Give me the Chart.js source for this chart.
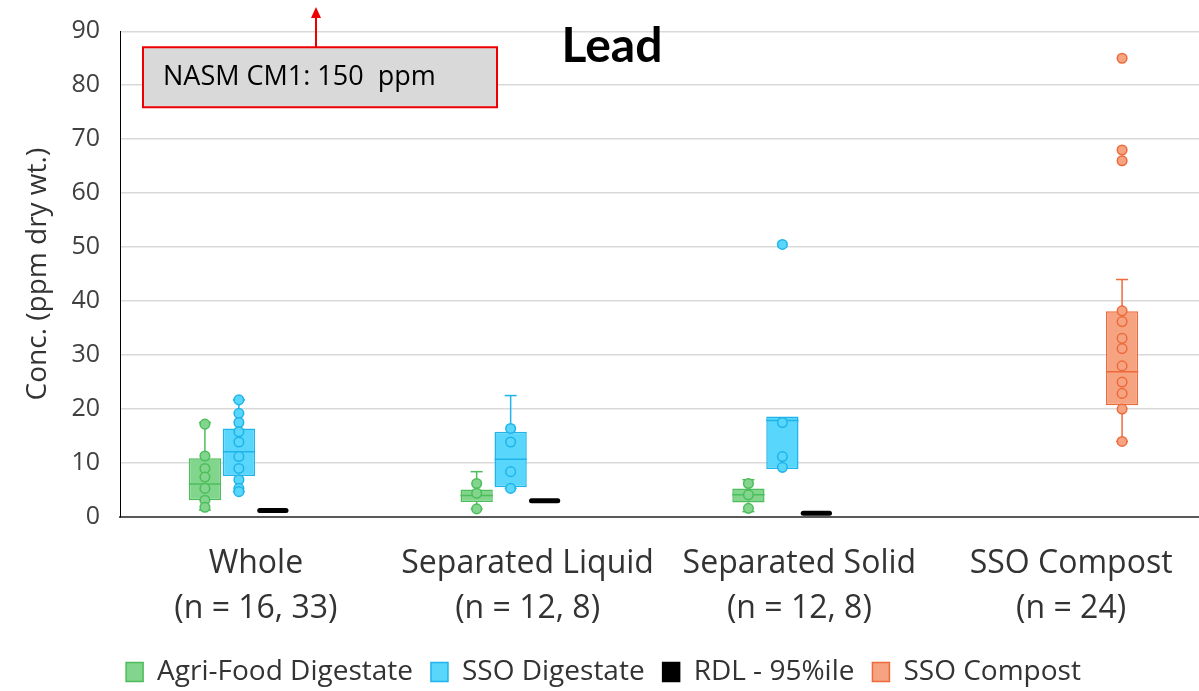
<!DOCTYPE html>
<html>
<head>
<meta charset="utf-8">
<title>Lead</title>
<script src="https://cdn.jsdelivr.net/npm/chart.js@4.4.1/dist/chart.umd.min.js"></script>
<style>
  html, body { margin: 0; padding: 0; background: #fff; overflow: hidden; }
  #wrap { width: 1224px; height: 696px; position: relative; }
</style>
</head>
<body>
<div id="wrap"><canvas id="leadChart"></canvas></div>
<script>
// categories along the x axis (two-line labels)
const categories = [
  ['Whole', '(n = 16, 33)'],
  ['Separated Liquid', '(n = 12, 8)'],
  ['Separated Solid', '(n = 12, 8)'],
  ['SSO Compost', '(n = 24)']
];
const seriesNames = ['Agri-Food Digestate', 'SSO Digestate', 'RDL - 95%ile', 'SSO Compost'];

// box stats per category: [min, q1, median, q3, max]
const agriBox = [[1.3, 3.1, 6.1, 10.9, 17.5], [1.5, 2.8, 4.0, 5.1, 8.4], [1.0, 2.7, 4.1, 5.3, 6.9], null];
const ssoDigBox = [[4.7, 7.6, 12.1, 16.4, 21.7], [5.3, 5.5, 10.7, 15.8, 22.5], [8.9, 8.9, 17.9, 18.6, 18.6], null];
const rdlValue = [1.2, 3.0, 0.7, null];
const compostBox = [null, null, null, [14.0, 20.7, 26.9, 38.1, 44.0]];

// individual sample markers (including outliers)
const agriPoints = [[17.2, 11.3, 9.0, 7.4, 5.3, 3.1, 1.8], [6.2, 4.4, 1.5], [6.2, 4.1, 1.6], []];
const ssoDigPoints = [[21.7, 19.2, 17.5, 15.8, 13.9, 11.2, 9.0, 6.9, 5.3, 4.7], [16.4, 13.9, 8.4, 5.3], [50.5, 17.5, 11.2, 9.2], []];
const compostPoints = [[], [], [], [85.0, 68.0, 66.0, 38.2, 36.2, 33.1, 31.2, 28.0, 25.0, 22.9, 20.0, 14.0]];

const yTicks = { min: 0, max: 90, step: 10 };

const colors = {
  agri: { fill: '#82d58c', line: '#4cbd5a' },
  sso: { fill: '#58d6fb', line: '#1fb4ea' },
  rdl: { fill: '#000000', line: '#000000' },
  compost: { fill: '#f5a381', line: '#ee6a3b' }
};

const boxes = [agriBox, ssoDigBox, rdlValue.map(v => v == null ? null : [v, v, v, v, v]), compostBox];
const points = [agriPoints, ssoDigPoints, [[], [], [], []], compostPoints];
const palette = [colors.agri, colors.sso, colors.rdl, colors.compost];

// whiskers, medians and sample markers on top of the floating bars
const boxPlotPlugin = {
  id: 'boxPlot',
  afterDatasetsDraw(chart) {
    const ctx = chart.ctx;
    const y = chart.scales.y;
    boxes.forEach((set, d) => {
      const meta = chart.getDatasetMeta(d);
      const col = palette[d];
      set.forEach((b, j) => {
        if (!b) return;
        const el = meta.data[j];
        const x = el.x, half = el.width / 2;
        ctx.save();
        ctx.strokeStyle = col.line;
        if (d === 2) {
          // RDL: single value drawn as a thick bar
          ctx.lineWidth = 5;
          ctx.lineCap = 'round';
          ctx.beginPath();
          ctx.moveTo(x - half + 3, y.getPixelForValue(b[2]));
          ctx.lineTo(x + half - 3, y.getPixelForValue(b[2]));
          ctx.stroke();
          ctx.restore();
          return;
        }
        ctx.lineWidth = 1.5;
        const cap = 6;
        const line = (x1, y1, x2, y2) => {
          ctx.beginPath();
          ctx.moveTo(x1, y1);
          ctx.lineTo(x2, y2);
          ctx.stroke();
        };
        if (b[4] > b[3]) {
          const yt = y.getPixelForValue(b[4]);
          line(x, y.getPixelForValue(b[3]), x, yt);
          line(x - cap, yt, x + cap, yt);
        }
        if (b[0] < b[1]) {
          const yb = y.getPixelForValue(b[0]);
          line(x, y.getPixelForValue(b[1]), x, yb);
          line(x - cap, yb, x + cap, yb);
        }
        const ym = y.getPixelForValue(b[2]);
        line(x - half, ym, x + half, ym);
        points[d][j].forEach(v => {
          ctx.beginPath();
          ctx.arc(x, y.getPixelForValue(v), 4.8, 0, Math.PI * 2);
          ctx.fillStyle = col.fill;
          ctx.fill();
          ctx.stroke();
        });
        ctx.restore();
      });
    });
  }
};

// chart title and the regulatory limit call-out
const overlayPlugin = {
  id: 'overlay',
  afterDraw(chart) {
    const ctx = chart.ctx;
    const area = chart.chartArea;
    ctx.save();
    ctx.fillStyle = '#000';
    ctx.font = "bold 48px Lato, 'Open Sans', sans-serif";
    ctx.textAlign = 'center';
    ctx.textBaseline = 'middle';
    ctx.fillText('Lead', chart.width / 2, area.top + 15);

    const bx = area.left + 23, by = area.top + 16, bw = 354, bh = 60;
    ctx.fillStyle = '#d9d9d9';
    ctx.fillRect(bx, by, bw, bh);
    ctx.strokeStyle = '#ee0000';
    ctx.lineWidth = 2;
    ctx.strokeRect(bx, by, bw, bh);
    ctx.fillStyle = '#000';
    ctx.font = "27px 'Open Sans', sans-serif";
    ctx.textAlign = 'left';
    ctx.fillText('NASM CM1: 150  ppm', bx + 20, by + bh / 2);

    const ax = bx + 173;
    ctx.strokeStyle = '#ee0000';
    ctx.beginPath();
    ctx.moveTo(ax, by);
    ctx.lineTo(ax, 16);
    ctx.stroke();
    ctx.fillStyle = '#ee0000';
    ctx.beginPath();
    ctx.moveTo(ax, 7);
    ctx.lineTo(ax - 5, 18);
    ctx.lineTo(ax + 5, 18);
    ctx.closePath();
    ctx.fill();
    ctx.restore();
  }
};

Chart.defaults.font.family = "'Open Sans', sans-serif";
Chart.defaults.color = '#333';

const ctx = document.getElementById('leadChart').getContext('2d');
new Chart(ctx, {
  type: 'bar',
  data: {
    labels: categories,
    datasets: boxes.map((set, d) => ({
      label: seriesNames[d],
      data: set.map(b => b ? [b[1], b[3]] : null),
      backgroundColor: palette[d].fill,
      borderColor: palette[d].line,
      borderWidth: 1.5,
      borderSkipped: false,
      barPercentage: 0.95,
      categoryPercentage: 0.5
    }))
  },
  options: {
    responsive: true,
    maintainAspectRatio: false,
    animation: false,
    layout: { padding: { top: 20, right: 17, bottom: 0, left: 0 } },
    plugins: {
      legend: {
        position: 'bottom',
        labels: {
          boxWidth: 17,
          boxHeight: 19,
          padding: 18,
          color: '#333',
          font: { size: 28 }
        }
      },
      tooltip: { enabled: false }
    },
    scales: {
      x: {
        grid: { display: false },
        border: { color: '#595959', width: 2 },
        ticks: { color: '#333', font: { size: 32, lineHeight: 1.42 }, padding: 16, maxRotation: 0 },
        afterFit(scale) { scale.height = 123; }
      },
      y: {
        min: yTicks.min,
        max: yTicks.max,
        ticks: { stepSize: yTicks.step, color: '#404040', font: { size: 25, lineHeight: 0.9 }, padding: 20 },
        grid: { color: '#d9d9d9', lineWidth: 1.5, drawTicks: false },
        border: { color: '#000', width: 1 },
        title: {
          display: true,
          text: 'Conc. (ppm dry wt.)',
          color: '#333',
          font: { size: 28 },
          padding: { top: 21, bottom: 0 }
        },
        afterFit(scale) { scale.width = 120; }
      }
    }
  },
  plugins: [boxPlotPlugin, overlayPlugin]
});
</script>
</body>
</html>
